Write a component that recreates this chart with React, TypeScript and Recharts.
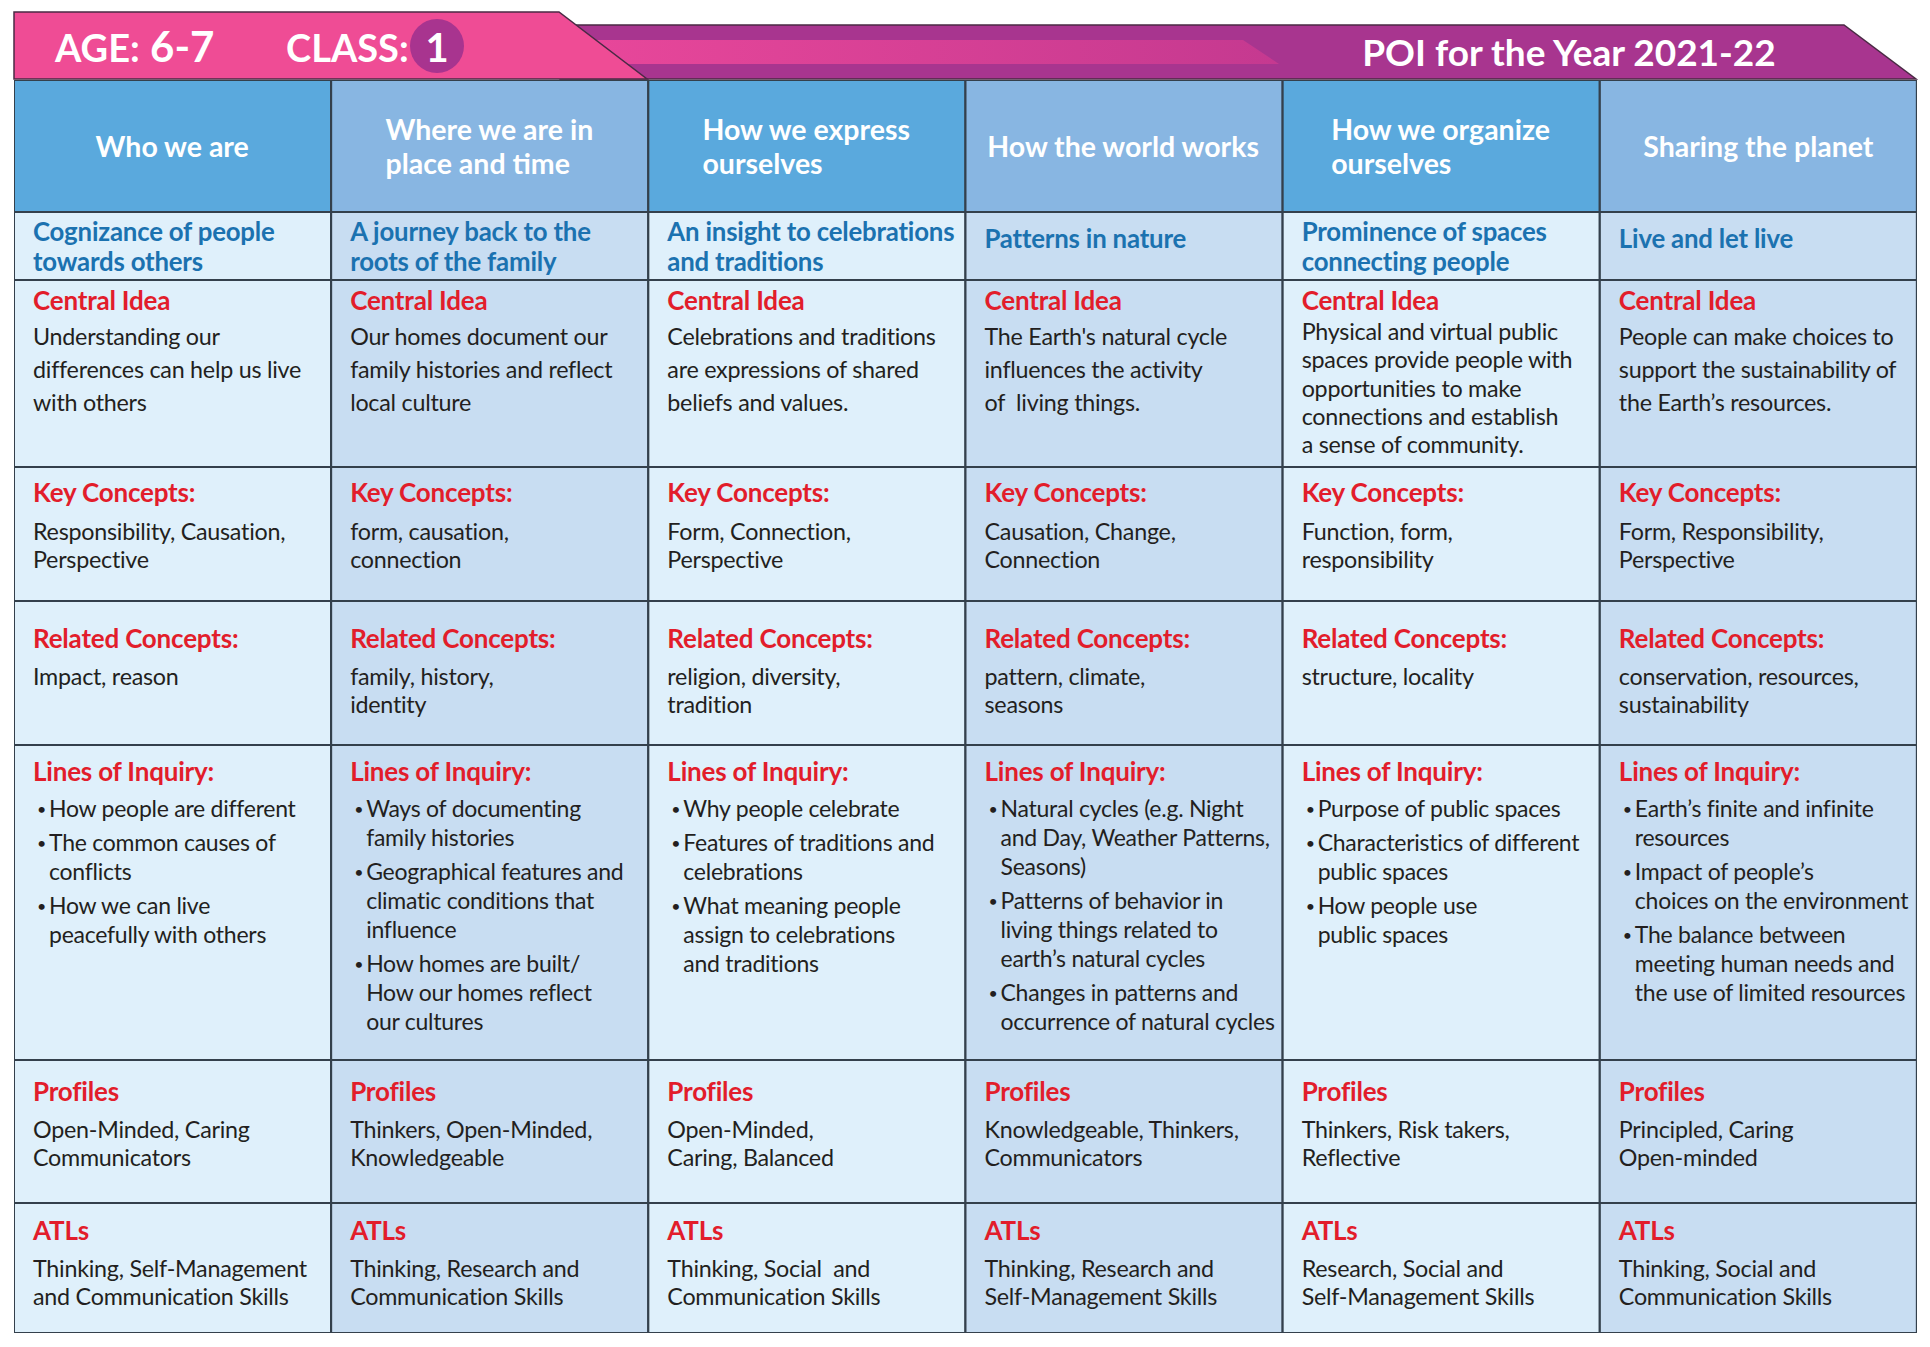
import { Bar, BarChart, XAxis, YAxis } from "recharts";

// column themes (header row)
const themes = [
  "Who we are",
  "Where we are in|place and time",
  "How we express|ourselves",
  "How the world works",
  "How we organize|ourselves",
  "Sharing the planet",
];

const titles = [
  "Cognizance of people|towards others",
  "A journey back to the|roots of the family",
  "An insight to celebrations|and traditions",
  "Patterns in nature",
  "Prominence of spaces|connecting people",
  "Live and let live",
];

const centralIdeas = [
  "Understanding our|differences can help us live|with others",
  "Our homes document our|family histories and reflect|local culture",
  "Celebrations and traditions|are expressions of shared|beliefs and values.",
  "The Earth's natural cycle|influences the activity|of  living things.",
  "Physical and virtual public|spaces provide people with|opportunities to make|connections and establish|a sense of community.",
  "People can make choices to|support the sustainability of|the Earth’s resources.",
];

const keyConcepts = [
  "Responsibility, Causation,|Perspective",
  "form, causation,|connection",
  "Form, Connection,|Perspective",
  "Causation, Change,|Connection",
  "Function, form,|responsibility",
  "Form, Responsibility,|Perspective",
];

const relatedConcepts = [
  "Impact, reason",
  "family, history,|identity",
  "religion, diversity,|tradition",
  "pattern, climate,|seasons",
  "structure, locality",
  "conservation, resources,|sustainability",
];

const linesOfInquiry = [
  ["How people are different", "The common causes of|conflicts", "How we can live|peacefully with others"],
  ["Ways of documenting|family histories", "Geographical features and|climatic conditions that|influence", "How homes are built/|How our homes reflect|our cultures"],
  ["Why people celebrate", "Features of traditions and|celebrations", "What meaning people|assign to celebrations|and traditions"],
  ["Natural cycles (e.g. Night|and Day, Weather Patterns,|Seasons)", "Patterns of behavior in|living things related to|earth’s natural cycles", "Changes in patterns and|occurrence of natural cycles"],
  ["Purpose of public spaces", "Characteristics of different|public spaces", "How people use|public spaces"],
  ["Earth’s finite and infinite|resources", "Impact of people’s|choices on the environment", "The balance between|meeting human needs and|the use of limited resources"],
];

const profiles = [
  "Open-Minded, Caring|Communicators",
  "Thinkers, Open-Minded,|Knowledgeable",
  "Open-Minded,|Caring, Balanced",
  "Knowledgeable, Thinkers,|Communicators",
  "Thinkers, Risk takers,|Reflective",
  "Principled, Caring|Open-minded",
];

const atls = [
  "Thinking, Self-Management|and Communication Skills",
  "Thinking, Research and|Communication Skills",
  "Thinking, Social  and|Communication Skills",
  "Thinking, Research and|Self-Management Skills",
  "Research, Social and|Self-Management Skills",
  "Thinking, Social and|Communication Skills",
];

const rowLabels = ["", "", "Central Idea", "Key Concepts:", "Related Concepts:", "Lines of Inquiry:", "Profiles", "ATLs"];

// table layout: row keys and their pixel heights (stacked bar values)
const rowKeys = ["header", "title", "central", "key", "related", "lines", "profiles", "atls"];
const rowHeights = [132, 68, 187, 134, 144, 315, 143, 130];
const total = rowHeights.reduce((a, b) => a + b, 0);

const FONT = "Lato, 'Open Sans', sans-serif";
const RED = "#e21d2b";
const BLUE = "#1b72b0";
const INK = "#231f20";
const BORDER = "#34404c";
const HEADER_SIZE = 28.5;

// offsets (from row top) for heading, first text line and line step
const rowLayout: Record<string, { head: number; first: number; step: number }> = {
  central: { head: 20, first: 56, step: 33 },
  key: { head: 25, first: 63.5, step: 28.5 },
  related: { head: 36.5, first: 75, step: 28 },
  lines: { head: 25.5, first: 62.5, step: 29 },
  profiles: { head: 30.5, first: 68.7, step: 28.3 },
  atls: { head: 26.7, first: 65, step: 28 },
};

const cellText: Record<string, string[]> = {
  central: centralIdeas,
  key: keyConcepts,
  related: relatedConcepts,
  profiles,
  atls,
};

const data = themes.map((t) => {
  const row: Record<string, string | number> = { theme: t.replace("|", " ") };
  rowKeys.forEach((k, j) => (row[k] = rowHeights[j]));
  return row;
});

const measureCtx = typeof document !== "undefined" ? document.createElement("canvas").getContext("2d") : null;
function textWidth(s: string, font: string) {
  if (!measureCtx) return s.length * 13;
  measureCtx.font = font;
  return measureCtx.measureText(s).width;
}

function TextLines({ x, y, step, lines, size, color, weight, anchor, spacing }: any) {
  return (
    <>
      {lines.map((l: string, i: number) => (
        <text
          key={i}
          x={x}
          y={y + i * step}
          dominantBaseline="central"
          textAnchor={anchor || "start"}
          fontFamily={FONT}
          fontSize={size}
          fontWeight={weight || 400}
          fill={color}
          letterSpacing={spacing ?? -0.25}
          style={{ whiteSpace: "pre" }}
        >
          {l}
        </text>
      ))}
    </>
  );
}

function TableCell(props: any) {
  const { x, width, index, rowKey } = props;
  // reversed axis gives a negative height: normalise to top/height
  let y = props.y;
  let height = props.height;
  if (height < 0) {
    y += height;
    height = -height;
  }
  const even = index % 2 === 0;
  let fill = even ? "#dff0fb" : "#c8ddf2";
  if (rowKey === "header") fill = even ? "#5aa9dd" : "#88b6e2";
  const pad = 19;
  let content = null;

  if (rowKey === "header") {
    const lines = themes[index].split("|");
    const cy = y + height / 2 - (lines.length - 1) * 16.75;
    const widest = Math.max(...lines.map((l) => textWidth(l, `700 ${HEADER_SIZE}px Lato`)));
    const left = x + width / 2 - widest / 2;
    content = (
      <TextLines x={left} y={cy} step={33.5} lines={lines} size={HEADER_SIZE} color="#fff" weight={700} spacing={0} />
    );
  } else if (rowKey === "title") {
    const lines = titles[index].split("|");
    const cy = lines.length > 1 ? y + 19.4 : y + 25.5;
    content = <TextLines x={x + pad} y={cy} step={29.6} lines={lines} size={25.8} color={BLUE} weight={700} spacing={-0.2} />;
  } else {
    const lay = rowLayout[rowKey];
    const label = rowLabels[rowKeys.indexOf(rowKey)];
    const head = (
      <TextLines x={x + pad} y={y + lay.head} step={0} lines={[label]} size={26} color={RED} weight={700} spacing={-0.2} />
    );
    if (rowKey === "lines") {
      let cur = y + lay.first;
      const items: any[] = [];
      linesOfInquiry[index].forEach((b, bi) => {
        const lines = b.split("|");
        items.push(
          <text key={"b" + bi} x={x + pad + 4} y={cur + 1} dominantBaseline="central" fontFamily={FONT} fontSize={16} fill={INK}>
            •
          </text>
        );
        items.push(<TextLines key={"t" + bi} x={x + pad + 16} y={cur} step={lay.step} lines={lines} size={23} color={INK} />);
        cur += lines.length * lay.step + 5;
      });
      content = (
        <>
          {head}
          {items}
        </>
      );
    } else {
      const lines = cellText[rowKey][index].split("|");
      let first = lay.first;
      let step = lay.step;
      if (lines.length > 3) {
        first = 51;
        step = 28.3;
      }
      content = (
        <>
          {head}
          <TextLines x={x + pad} y={y + first} step={step} lines={lines} size={23.3} color={INK} />
        </>
      );
    }
  }

  return (
    <g>
      <rect x={x} y={y} width={width} height={height} fill={fill} stroke={BORDER} strokeWidth={2} />
      {content}
    </g>
  );
}

function Banner() {
  return (
    <svg width={1930} height={80} style={{ position: "absolute", left: 0, top: 0 }}>
      <defs>
        <linearGradient id="stripe" x1="0" x2="1" y1="0" y2="0">
          <stop offset="0%" stopColor="#e8479a" />
          <stop offset="100%" stopColor="#c53990" />
        </linearGradient>
      </defs>
      <polygon points="560,25 1844,25 1916,79 560,79" fill="#a8358f" stroke="#4a2a44" strokeWidth={1.5} />
      <polygon points="576,40 1243,40 1279,64 576,64" fill="url(#stripe)" />
      <polygon points="14,12 559,12 647,79 14,79" fill="#ef4c95" stroke="#4a2a44" strokeWidth={1.5} />
      <text x={55} y={62} fontFamily={FONT} fontWeight={700} fontSize={38} fill="#fff">
        AGE:
        <tspan fontSize={42}> 6-7</tspan>
      </text>
      <text x={286} y={62} fontFamily={FONT} fontWeight={700} fontSize={38} fill="#fff">
        CLASS:
      </text>
      <circle cx={437} cy={46} r={27} fill="#a8348f" />
      <text x={437} y={62} textAnchor="middle" fontFamily={FONT} fontWeight={700} fontSize={40} fill="#fff">
        1
      </text>
      <text x={1569} y={66} textAnchor="middle" fontFamily={FONT} fontWeight={700} fontSize={37} fill="#fff">
        POI for the Year 2021-22
      </text>
    </svg>
  );
}

export default function App() {
  return (
    <div style={{ position: "absolute", left: 0, top: 0, width: 1930, height: 1347, background: "#fff" }}>
      <Banner />
      <div style={{ position: "absolute", left: 14, top: 80 }}>
        <BarChart
          width={1903}
          height={total}
          data={data}
          margin={{ top: 0, right: 0, bottom: 0, left: 0 }}
          barCategoryGap={0}
          barGap={0}
        >
          <XAxis dataKey="theme" hide />
          <YAxis type="number" domain={[0, total]} reversed hide />
          {rowKeys.map((k) => (
            <Bar
              key={k}
              dataKey={k}
              stackId="poi"
              isAnimationActive={false}
              shape={(p: any) => <TableCell {...p} rowKey={k} />}
            />
          ))}
        </BarChart>
      </div>
    </div>
  );
}
